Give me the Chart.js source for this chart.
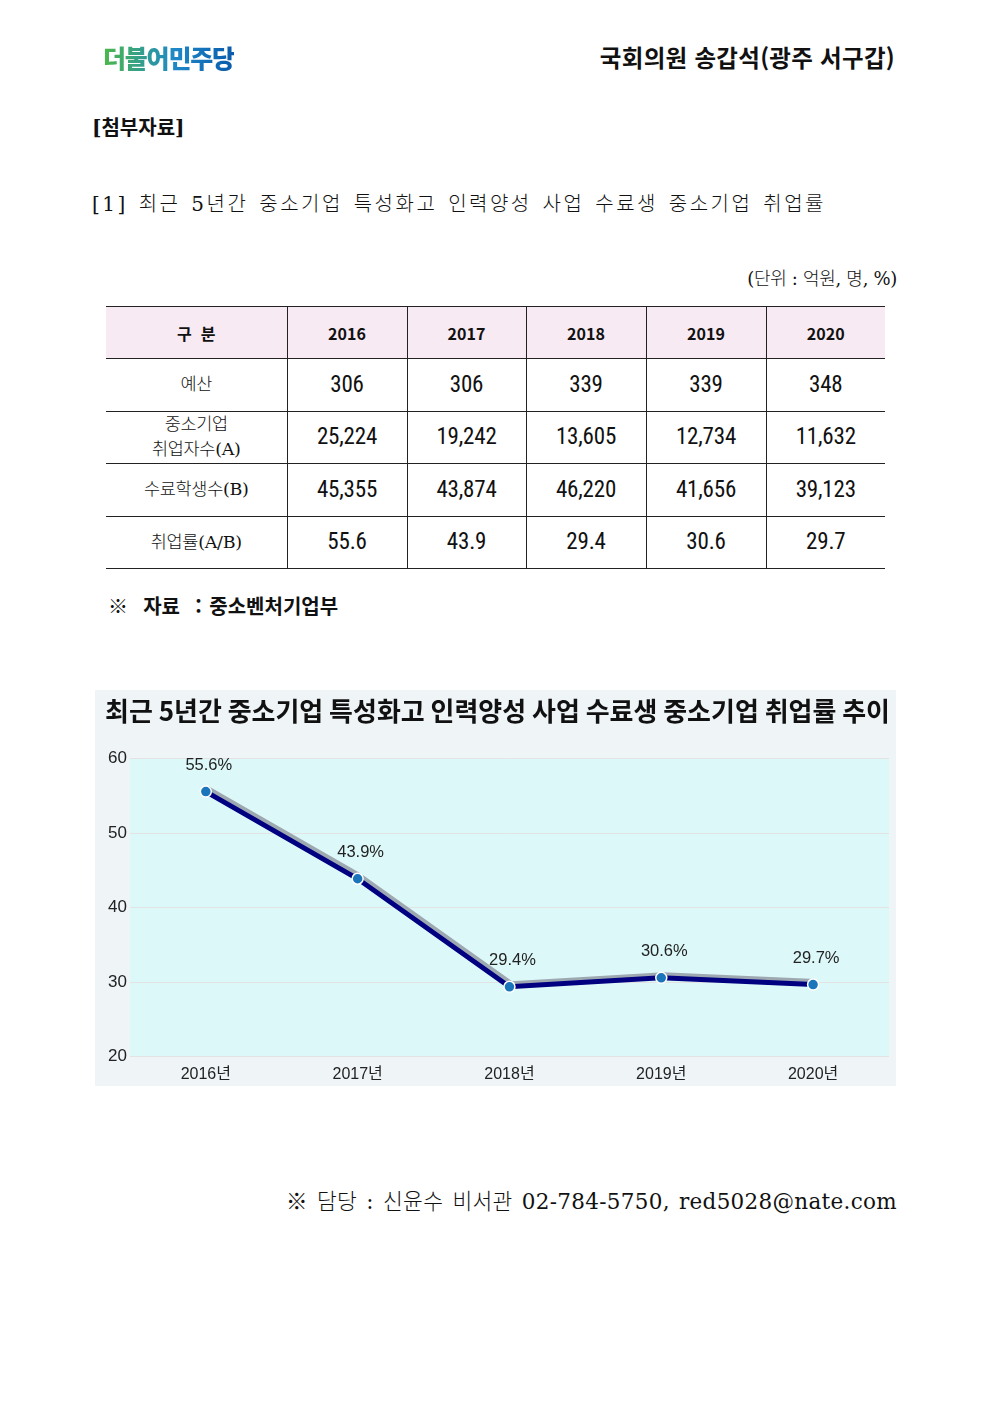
<!DOCTYPE html>
<html lang="ko">
<head>
<meta charset="utf-8">
<script src="https://cdn.jsdelivr.net/npm/chart.js@4.4.1/dist/chart.umd.min.js"></script>
<style>
    body { margin: 0; background: #fff; width: 992px; height: 1403px; position: relative; font-family: "Noto Sans CJK KR", sans-serif; color: #111; }
    .abs { position: absolute; white-space: nowrap; }
    .logo { left: 103px; top: 41px; font-size: 25px; font-weight: 900; letter-spacing: -1.2px;
        background: linear-gradient(90deg, #4cb848, #1e88c8 55%, #0a5bab); -webkit-background-clip: text; background-clip: text; color: transparent; line-height: 32px; }
    .member { right: 97px; top: 41px; font-size: 23.5px; font-weight: 700; line-height: 32px; letter-spacing: 0.3px; }
    .serif { font-family: "DejaVu Serif", "Noto Sans CJK KR", serif; }
    .attach { left: 92px; top: 113px; font-size: 20px; font-weight: 700; line-height: 30px; }
    .subtitle { left: 92px; top: 189px; font-size: 20px; line-height: 30px; letter-spacing: 2.5px; word-spacing: 2px; font-weight: 300; }
    .unit { right: 95px; top: 265px; font-size: 18px; line-height: 28px; letter-spacing: -0.3px; font-weight: 300; }
    table { position: absolute; left: 106px; top: 306px; width: 779px; border-collapse: collapse; table-layout: fixed; }
    th, td { text-align: center; border-left: 1px solid #222; border-right: 1px solid #222; padding: 0; box-sizing: border-box; }
    tr > :first-child { border-left: none; }
    tr > :last-child { border-right: none; }
    tr { border-bottom: 1px solid #222; }
    thead tr { border-top: 1.5px solid #222; }
    th { height: 52px; background: #f8eaf3; font-size: 16px; font-weight: 700; }
    td { height: 52.5px; font-size: 23px; line-height: 24px; font-family: "Roboto Condensed", "Liberation Sans Narrow", "Noto Sans CJK KR", sans-serif; font-weight: 400; letter-spacing: -0.2px; }
    td.label { font-size: 17.5px; line-height: 25px; font-family: "DejaVu Serif", "Noto Sans CJK KR", serif; font-weight: 300; letter-spacing: -0.3px; }
    .source { left: 108px; top: 591px; font-size: 20px; font-weight: 700; line-height: 30px; word-spacing: 2px; }
    .contact { right: 95px; top: 1187px; font-size: 21.5px; line-height: 30px; font-weight: 300; letter-spacing: 0.3px; word-spacing: 2px; }
    #chartBox { position: absolute; left: 95px; top: 690px; width: 801px; height: 396px; background: #eff4f7; }
</style>
</head>
<body>

<div class="abs logo">더불어민주당</div>
<div class="abs member">국회의원 송갑석(광주 서구갑)</div>
<div class="abs attach serif">[첨부자료]</div>
<div class="abs subtitle serif">[1] 최근 5년간 중소기업 특성화고 인력양성 사업 수료생 중소기업 취업률</div>
<div class="abs unit serif">(단위 : 억원, 명, %)</div>

<table id="dataTable">
    <colgroup>
        <col style="width:181px"><col style="width:120px"><col style="width:119px"><col style="width:120px"><col style="width:120px"><col style="width:119px">
    </colgroup>
    <thead><tr id="headRow"><th>구&nbsp;&nbsp;분</th></tr></thead>
    <tbody id="tableBody"></tbody>
</table>

<div class="abs source">※&nbsp; 자료 &nbsp;: 중소벤처기업부</div>

<div id="chartBox"><canvas id="rateChart"></canvas></div>

<div class="abs contact serif">※ 담당 : 신윤수 비서관 02-784-5750, red5028@nate.com</div>

<script>
// table + chart data
const years = ['2016', '2017', '2018', '2019', '2020'];
const budget = ['306', '306', '339', '339', '348'];
const employed = ['25,224', '19,242', '13,605', '12,734', '11,632'];
const graduates = ['45,355', '43,874', '46,220', '41,656', '39,123'];
const employmentRate = [55.6, 43.9, 29.4, 30.6, 29.7];

const xLabels = years.map(y => y + '년');
const yTicks = [20, 30, 40, 50, 60];

// build the table rows
const headRow = document.getElementById('headRow');
years.forEach(y => {
    const th = document.createElement('th');
    th.textContent = y;
    headRow.appendChild(th);
});

const rows = [
    ['예산', budget],
    ['중소기업<br>취업자수(A)', employed],
    ['수료학생수(B)', graduates],
    ['취업률(A/B)', employmentRate.map(v => v.toFixed(1))]
];
const tbody = document.getElementById('tableBody');
rows.forEach(([label, values]) => {
    const tr = document.createElement('tr');
    let html = `<td class="label">${label}</td>`;
    values.forEach(v => { html += `<td>${v}</td>`; });
    tr.innerHTML = html;
    tbody.appendChild(tr);
});

// plot area background + soft gray line shadow (line only, not the dots)
const plotBackground = {
    id: 'plotBackground',
    beforeDraw(chart) {
        const { ctx, chartArea } = chart;
        ctx.save();
        ctx.fillStyle = '#ddf8f9';
        ctx.fillRect(chartArea.left, chartArea.top, chartArea.right - chartArea.left, chartArea.bottom - chartArea.top);
        ctx.restore();
    },
    beforeDatasetDraw(chart) {
        const ctx = chart.ctx;
        const pts = chart.getDatasetMeta(0).data;
        ctx.save();
        ctx.strokeStyle = 'rgba(150, 158, 168, 0.9)';
        ctx.lineWidth = 5;
        ctx.lineJoin = 'round';
        ctx.beginPath();
        pts.forEach((p, i) => {
            if (i === 0) ctx.moveTo(p.x + 2, p.y - 3);
            else ctx.lineTo(p.x + 2, p.y - 3);
        });
        ctx.stroke();
        ctx.restore();
    }
};

// value labels above points
const valueLabels = {
    id: 'valueLabels',
    afterDatasetsDraw(chart) {
        const { ctx } = chart;
        const meta = chart.getDatasetMeta(0);
        ctx.save();
        ctx.font = '16.5px "Liberation Sans", Arial, sans-serif';
        ctx.fillStyle = '#222';
        ctx.textAlign = 'center';
        ctx.textBaseline = 'middle';
        meta.data.forEach((pt, i) => {
            ctx.fillText(employmentRate[i].toFixed(1) + '%', pt.x + 3, pt.y - 26);
        });
        ctx.restore();
    }
};

new Chart(document.getElementById('rateChart'), {
    type: 'line',
    data: {
        labels: xLabels,
        datasets: [{
            data: employmentRate,
            borderColor: '#000080',
            borderWidth: 5,
            pointBackgroundColor: '#1b75bb',
            pointBorderColor: '#ffffff',
            pointBorderWidth: 1.5,
            pointRadius: 5.5,
            tension: 0
        }]
    },
    options: {
        responsive: true,
        maintainAspectRatio: false,
        animation: false,
        layout: { padding: { left: 10, right: 6, top: 0, bottom: 2 } },
        scales: {
            x: {
                offset: true,
                grid: { display: false },
                border: { display: false },
                ticks: {
                    color: '#222',
                    padding: 0,
                    font: { size: 16, family: '"Liberation Sans", "Noto Sans CJK KR", sans-serif' }
                }
            },
            y: {
                min: 20,
                max: 60,
                afterBuildTicks: axis => { axis.ticks = yTicks.map(v => ({ value: v })); },
                grid: { color: '#e3e3e3', lineWidth: 1, drawTicks: false },
                border: { display: false },
                ticks: {
                    color: '#222',
                    padding: 3,
                    font: { size: 17, family: '"Liberation Sans", Arial, sans-serif' }
                }
            }
        },
        plugins: {
            legend: { display: false },
            tooltip: { enabled: false },
            title: {
                display: true,
                text: '최근 5년간 중소기업 특성화고 인력양성 사업 수료생 중소기업 취업률 추이',
                color: '#111',
                font: { size: 26.5, weight: 'bold', family: '"Noto Sans CJK KR", sans-serif' },
                padding: { top: 5, bottom: 32 }
            }
        }
    },
    plugins: [plotBackground, valueLabels]
});
</script>
</body>
</html>
